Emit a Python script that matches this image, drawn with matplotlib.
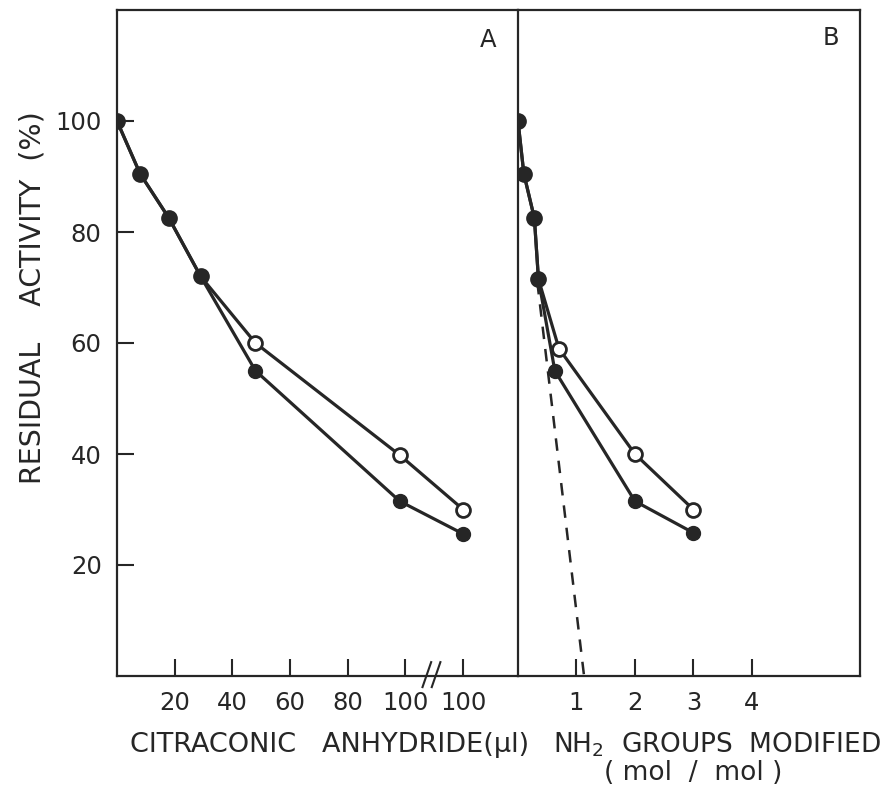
import numpy as np
import matplotlib.pyplot as plt

# === DATOS ===
# Panel A: actividad residual vs anhidrido citraconico (ul)
a_x = [0, 8, 18, 29, 48, 98, 120]          # 120 = segundo "100" tras el corte
a_open = [100, 90.5, 82.5, 72, 60, 39.8, 30]
a_filled = [100, 90.5, 82.5, 72, 55, 31.5, 25.6]
a_ticks = [20, 40, 60, 80, 100, 120]
a_ticklabels = ["20", "40", "60", "80", "100", "100"]
a_break = 109

# Panel B: actividad residual vs grupos NH2 modificados (mol/mol)
b_x_open = [0, 0.1, 0.28, 0.35, 0.7, 2, 3]
b_open = [100, 90.5, 82.5, 71.5, 59, 40, 30]
b_x_filled = [0, 0.1, 0.28, 0.35, 0.63, 2, 3]
b_filled = [100, 90.5, 82.5, 71.5, 55, 31.5, 25.8]
b_tangent_x = [0.33, 1.13]
b_tangent_y = [71, 0]
b_ticks = [1, 2, 3, 4]

y_ticks = [20, 40, 60, 80, 100]

INK = "#262626"
FS = 17.5

plt.rcParams["font.family"] = ["DejaVu Sans"]

fig = plt.figure(figsize=(8.89, 7.89), dpi=100)
W, H = 889, 789
top = 1 - 10 / H
bottom = 1 - 676 / H
axA = fig.add_axes([117 / W, bottom, (518 - 117) / W, top - bottom])
axB = fig.add_axes([518 / W, bottom, (860 - 518) / W, top - bottom])

for ax in (axA, axB):
    ax.set_ylim(0, 120)
    for s in ax.spines.values():
        s.set_linewidth(1.6)
        s.set_color(INK)
    ax.tick_params(direction="in", length=12, width=1.5, color=INK,
                   labelsize=FS, labelcolor=INK, pad=11)

# --- Panel A ---
axA.set_xlim(0, 139)
axA.spines["right"].set_visible(False)
axA.plot(a_x, a_open, color=INK, lw=2.3, marker="o", ms=10,
         mfc="white", mec=INK, mew=2, zorder=3)
axA.plot(a_x, a_filled, color=INK, lw=2.3, marker="o", ms=10,
         mfc=INK, mec=INK, zorder=4)
axA.set_xticks(a_ticks)
axA.set_xticklabels(a_ticklabels)
axA.set_yticks(y_ticks)
axA.text(0.925, 0.955, "A", transform=axA.transAxes, fontsize=FS,
         color=INK, ha="center", va="center")
# marca de corte //
for dx in (-1.6, 1.6):
    axA.plot([a_break + dx - 1.5, a_break + dx + 1.5], [-2, 2.5],
             color=INK, lw=1.5, clip_on=False, zorder=5)

# --- Panel B ---
axB.set_xlim(0, 5.85)
axB.plot(b_tangent_x, b_tangent_y, color=INK, lw=1.8, ls=(0, (5, 4)), zorder=2)
axB.plot(b_x_open, b_open, color=INK, lw=2.3, marker="o", ms=10,
         mfc="white", mec=INK, mew=2, zorder=3)
axB.plot(b_x_filled, b_filled, color=INK, lw=2.3, marker="o", ms=10,
         mfc=INK, mec=INK, zorder=4)
axB.set_xticks(b_ticks)
axB.set_yticks([])
axB.text(0.915, 0.958, "B", transform=axB.transAxes, fontsize=FS,
         color=INK, ha="center", va="center")

# --- Etiquetas ---
fig.text(33 / W, 1 - 298 / H, "RESIDUAL    ACTIVITY  (%)", rotation=90,
         fontsize=20.5, color=INK, ha="center", va="center")
fig.text(130 / W, 1 - 745 / H, "CITRACONIC   ANHYDRIDE(\u00b5l)",
         fontsize=19.5, color=INK, ha="left", va="center")
fig.text(553 / W, 1 - 745 / H, "NH$_2$  GROUPS  MODIFIED",
         fontsize=19, color=INK, ha="left", va="center")
fig.text(693 / W, 1 - 773 / H, "( mol  /  mol )",
         fontsize=19, color=INK, ha="center", va="center")

fig.savefig("out.png", dpi=100, facecolor="white")
